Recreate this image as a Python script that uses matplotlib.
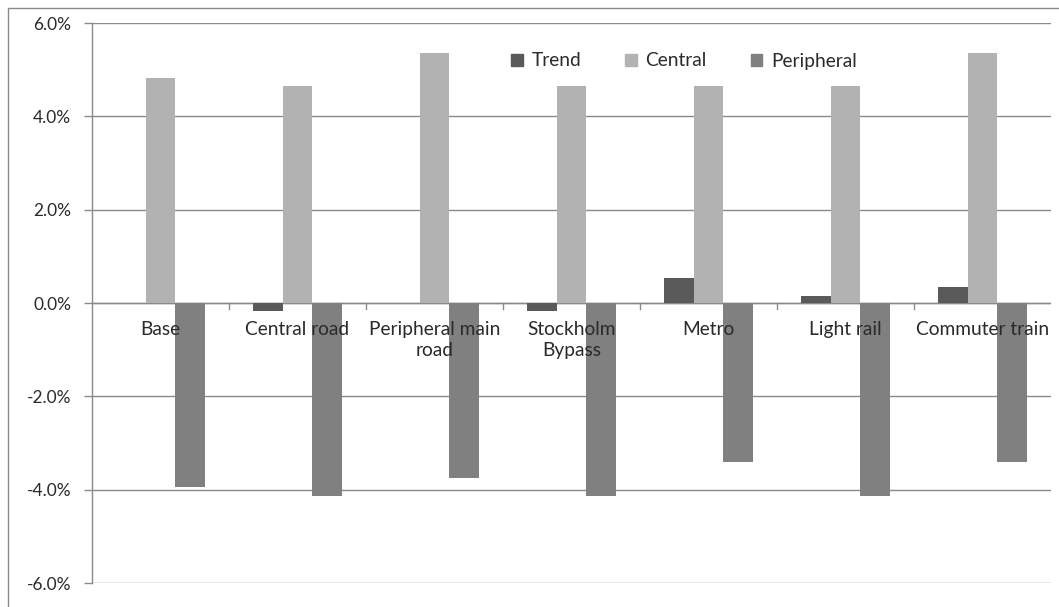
import matplotlib
matplotlib.use("Agg")
import matplotlib.pyplot as plt
import numpy as np
from matplotlib.patches import Rectangle
from matplotlib.ticker import FuncFormatter, FixedLocator
from matplotlib.transforms import offset_copy

plt.rcParams['font.family'] = ['Lato', 'DejaVu Sans']

categories = ["Base", "Central road", "Peripheral main\nroad", "Stockholm\nBypass",
              "Metro", "Light rail", "Commuter train"]
trend = [0.0, -0.18, 0.0, -0.18, 0.54, 0.16, 0.35]
central = [4.82, 4.64, 5.35, 4.64, 4.64, 4.64, 5.35]
peripheral = [-3.94, -4.13, -3.75, -4.13, -3.40, -4.13, -3.40]
series_names = ["Trend", "Central", "Peripheral"]
colors = ["#5a5a5a", "#b2b2b2", "#808080"]
y_ticks = [-6, -4, -2, 0, 2, 4, 6]

W, H = 1059, 607
fig = plt.figure(figsize=(W / 100, H / 100), dpi=100)
ax = fig.add_axes([92 / W, 1 - 583 / H, (1051 - 92) / W, (583 - 23) / H])

x = np.arange(len(categories))
bw = 0.215
for i, (vals, col) in enumerate(zip([trend, central, peripheral], colors)):
    ax.bar(x + (i - 1) * bw, vals, width=bw, color=col, zorder=2, label=series_names[i])

ax.set_xlim(-0.5, len(categories) - 0.5)
ax.set_ylim(-6, 6)
ax.yaxis.set_major_locator(FixedLocator(y_ticks))
ax.yaxis.set_major_formatter(FuncFormatter(lambda v, p: f"{v:.1f}%"))
ax.grid(axis="y", color="#8a8a8a", linewidth=1.0, zorder=0)
ax.set_axisbelow(True)

for s in ["top", "right", "bottom"]:
    ax.spines[s].set_visible(False)
ax.spines["left"].set_color("#8a8a8a")
ax.spines["left"].set_linewidth(1.0)
ax.tick_params(axis="y", direction="out", length=6, color="#8a8a8a", width=1.0,
               labelsize=12.5, labelcolor="#2a2a2a", pad=9)
ax.set_xticks([])

# zero baseline with boundary tick marks
ax.axhline(0, color="#8a8a8a", linewidth=1.0, zorder=1.5)
for b in np.arange(0.5, len(categories) - 0.5, 1.0):
    ax.plot([b, b], [0, -0.12], color="#8a8a8a", linewidth=1.0, zorder=1.5)

lab_tr = offset_copy(ax.transData, fig=fig, x=0, y=-13, units="points")
for xi, c in zip(x, categories):
    ax.text(xi, 0, c, transform=lab_tr, ha="center", va="top", fontsize=13.8,
            color="#2a2a2a", zorder=5, linespacing=1.3)

handles = [Rectangle((0, 0), 1, 1, color=c) for c in colors]
fig.legend(handles, series_names, loc="center", bbox_to_anchor=(684 / W, 1 - 61 / H),
           ncol=3, frameon=False, fontsize=13.8, handlelength=0.6, handleheight=0.6,
           handletextpad=0.45, columnspacing=2.3, labelcolor="#2a2a2a")

# outer chart border
fig.patches.append(Rectangle((8 / W, -0.1), 1.2, 1 - 8 / H + 0.1, transform=fig.transFigure,
                             fill=False, edgecolor="#8a8a8a", linewidth=1.0))

fig.savefig("out.png", dpi=100, facecolor="white")
